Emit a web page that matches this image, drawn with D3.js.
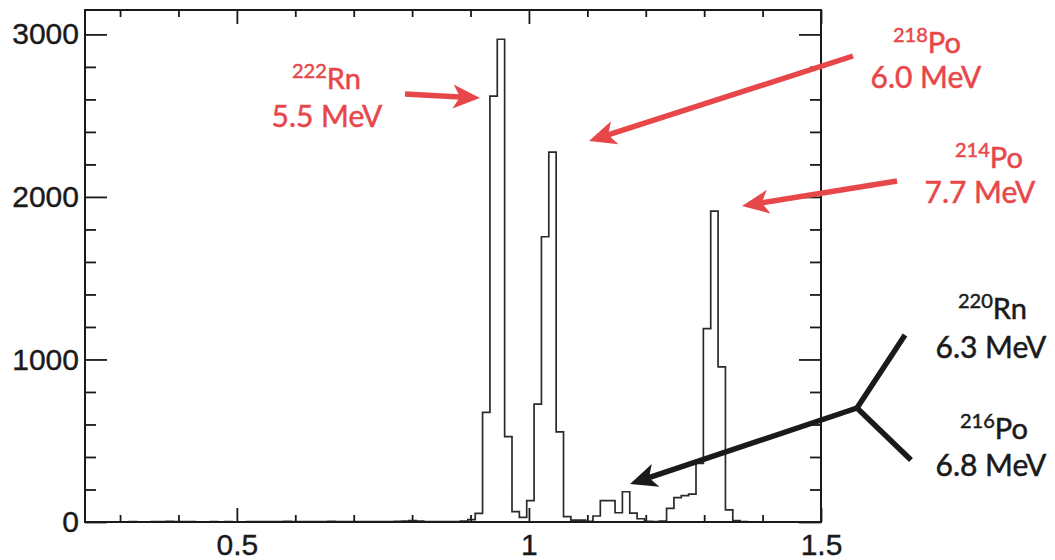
<!DOCTYPE html>
<html>
<head>
<meta charset="utf-8">
<script src="https://cdn.jsdelivr.net/npm/d3@7"></script>
<style>
  html, body { margin: 0; padding: 0; background: #fff; }
  svg { display: block; }
</style>
</head>
<body>
<svg id="chart" width="1055" height="560"></svg>
<script>
// ---- histogram data: regular bins, counts per bin ----
const binStart = 0.2402;
const binWidth = 0.0126;
const counts = [
  0, 0, 1, 0, 0, 1, 2, 1, 1, 2,
  3, 4, 3, 2, 2, 1, 1, 2, 1, 2,
  1, 1, 2, 2, 3, 2, 3, 4, 3, 2,
  2, 3, 2, 4, 3, 2, 2, 3, 2, 3,
  2, 3, 4, 6, 9, 5, 3, 2, 3, 3,
  3, 5, 15, 53, 675, 2620, 2970, 525, 64, 29,
  131, 725, 1755, 2275, 555, 33, 12, 12, 4, 37,
  131, 131, 57, 186, 55, 20, 4, 3, 6, 84,
  150, 162, 172, 360, 1190, 1913, 955, 74, 8, 3,
  1, 0, 1, 0, 0, 0, 0, 0, 0, 0
];

// ---- axis ticks ----
const xDomain = [0.24, 1.5];
const yDomain = [0, 3150];
const xMajorTicks = [0.5, 1, 1.5];
const xMajorLabels = ["0.5", "1", "1.5"];
const xMinorTicks = [0.3, 0.4, 0.6, 0.7, 0.8, 0.9, 1.1, 1.2, 1.3, 1.4];
const yMajorTicks = [0, 1000, 2000, 3000];
const yMajorLabels = ["0", "1000", "2000", "3000"];
const yMinorTicks = [200, 400, 600, 800, 1200, 1400, 1600, 1800, 2200, 2400, 2600, 2800];

// ---- peak annotations ----
const isotopeMass   = ["222", "218", "214", "220", "216"];
const isotopeSymbol = ["Rn", "Po", "Po", "Rn", "Po"];
const alphaEnergy   = ["5.5 MeV", "6.0 MeV", "7.7 MeV", "6.3 MeV", "6.8 MeV"];

// ---- layout ----
const frame = { left: 85, right: 821, top: 10, bottom: 522 };
const red = "#e8474a";
const ink = "#1a1a1a";

const labelLayout = [
  { nx: 292, ny: 89,  ex: 327, ey: 127, color: red },
  { nx: 893, ny: 53,  ex: 926, ey: 88,  color: red },
  { nx: 955, ny: 168, ex: 980, ey: 203, color: red },
  { nx: 958, ny: 319, ex: 991, ey: 358, color: ink },
  { nx: 960, ny: 439, ex: 991, ey: 476, color: ink }
];
const arrowLayout = [
  { x1: 405, y1: 94,  x2: 480, y2: 98,  color: red },
  { x1: 853, y1: 56,  x2: 589, y2: 141, color: red },
  { x1: 897, y1: 181, x2: 742, y2: 206, color: red },
  { x1: 857, y1: 408, x2: 630, y2: 484, color: ink }
];
const forkLayout = [
  { x1: 857, y1: 408, x2: 905, y2: 335 },
  { x1: 857, y1: 408, x2: 911, y2: 460 }
];

const svg = d3.select("#chart");

const x = d3.scaleLinear().domain(xDomain).range([frame.left, frame.right]);
const y = d3.scaleLinear().domain(yDomain).range([frame.bottom, frame.top]);

// clip for histogram
svg.append("defs").append("clipPath").attr("id", "plotClip")
  .append("rect")
  .attr("x", frame.left).attr("y", frame.top)
  .attr("width", frame.right - frame.left)
  .attr("height", frame.bottom - frame.top);

// histogram outline as a step line
const pts = [[binStart, 0]];
counts.forEach((c, k) => pts.push([binStart + k * binWidth, c]));
pts.push([binStart + counts.length * binWidth, counts[counts.length - 1]]);
pts.push([binStart + counts.length * binWidth, 0]);

const stepLine = d3.line()
  .x(d => x(d[0]))
  .y(d => y(d[1]))
  .curve(d3.curveStepAfter);

svg.append("path")
  .datum(pts)
  .attr("clip-path", "url(#plotClip)")
  .attr("d", stepLine)
  .attr("fill", "none")
  .attr("stroke", "#2a2a2a")
  .attr("stroke-width", 1.7)
  .attr("stroke-linejoin", "miter");

// axes with inward ticks on all four sides
function styleAxis(g) {
  g.select(".domain").remove();
  g.selectAll(".tick line").attr("stroke", ink).attr("stroke-width", 1.8);
  g.selectAll("text")
    .attr("font-family", "'Liberation Sans', Arial, Helvetica, sans-serif")
    .attr("font-size", 30)
    .attr("fill", ink)
    .attr("stroke", ink)
    .attr("stroke-width", 0.4);
}

svg.append("g").attr("transform", `translate(${frame.left},0)`)
  .call(d3.axisLeft(y).tickValues(yMajorTicks)
    .tickFormat((d, i) => yMajorLabels[i]).tickSizeInner(-22).tickSizeOuter(0).tickPadding(6))
  .call(styleAxis);
svg.append("g").attr("transform", `translate(${frame.left},0)`)
  .call(d3.axisLeft(y).tickValues(yMinorTicks).tickFormat("").tickSizeInner(-11).tickSizeOuter(0))
  .call(styleAxis);

svg.append("g").attr("transform", `translate(${frame.right},0)`)
  .call(d3.axisRight(y).tickValues(yMajorTicks).tickFormat("").tickSizeInner(-22).tickSizeOuter(0))
  .call(styleAxis);
svg.append("g").attr("transform", `translate(${frame.right},0)`)
  .call(d3.axisRight(y).tickValues(yMinorTicks).tickFormat("").tickSizeInner(-11).tickSizeOuter(0))
  .call(styleAxis);

svg.append("g").attr("transform", `translate(0,${frame.bottom})`)
  .call(d3.axisBottom(x).tickValues(xMajorTicks)
    .tickFormat((d, i) => xMajorLabels[i]).tickSizeInner(-14).tickSizeOuter(0).tickPadding(12))
  .call(styleAxis);
svg.append("g").attr("transform", `translate(0,${frame.bottom})`)
  .call(d3.axisBottom(x).tickValues(xMinorTicks).tickFormat("").tickSizeInner(-7).tickSizeOuter(0))
  .call(styleAxis);

svg.append("g").attr("transform", `translate(0,${frame.top})`)
  .call(d3.axisTop(x).tickValues(xMajorTicks).tickFormat("").tickSizeInner(-14).tickSizeOuter(0))
  .call(styleAxis);
svg.append("g").attr("transform", `translate(0,${frame.top})`)
  .call(d3.axisTop(x).tickValues(xMinorTicks).tickFormat("").tickSizeInner(-7).tickSizeOuter(0))
  .call(styleAxis);

// frame
svg.append("rect")
  .attr("x", frame.left).attr("y", frame.top)
  .attr("width", frame.right - frame.left)
  .attr("height", frame.bottom - frame.top)
  .attr("fill", "none")
  .attr("stroke", ink)
  .attr("stroke-width", 2);

// arrows
function arrow(a) {
  const dx = a.x2 - a.x1, dy = a.y2 - a.y1;
  const len = Math.hypot(dx, dy);
  const ux = dx / len, uy = dy / len;
  const px = -uy, py = ux;
  const headLen = 27, headHalf = 12, notch = 7;
  const bx = a.x2 - ux * headLen, by = a.y2 - uy * headLen;
  const g = svg.append("g");
  g.append("line")
    .attr("x1", a.x1).attr("y1", a.y1)
    .attr("x2", bx + ux * notch).attr("y2", by + uy * notch)
    .attr("stroke", a.color).attr("stroke-width", 5.5);
  g.append("polygon")
    .attr("points", [
      [a.x2, a.y2],
      [bx + px * headHalf, by + py * headHalf],
      [bx + ux * notch, by + uy * notch],
      [bx - px * headHalf, by - py * headHalf]
    ].map(p => p.join(",")).join(" "))
    .attr("fill", a.color);
}
arrowLayout.forEach(arrow);

forkLayout.forEach(f => {
  svg.append("line")
    .attr("x1", f.x1).attr("y1", f.y1)
    .attr("x2", f.x2).attr("y2", f.y2)
    .attr("stroke", ink).attr("stroke-width", 5.5)
    .attr("stroke-linecap", "butt");
});

// isotope labels
const annFont = "Lato, 'Open Sans', sans-serif";
labelLayout.forEach((L, i) => {
  const t = svg.append("text")
    .attr("x", L.nx).attr("y", L.ny)
    .attr("font-family", annFont)
    .attr("fill", L.color)
    .attr("stroke", L.color)
    .attr("stroke-width", 0.5);
  t.append("tspan").attr("font-size", 20).attr("dy", -11).text(isotopeMass[i]);
  t.append("tspan").attr("font-size", 29).attr("dy", 11).text(isotopeSymbol[i]);

  svg.append("text")
    .attr("x", L.ex).attr("y", L.ey)
    .attr("text-anchor", "middle")
    .attr("font-family", annFont)
    .attr("font-size", 30)
    .attr("fill", L.color)
    .attr("stroke", L.color)
    .attr("stroke-width", 0.5)
    .text(alphaEnergy[i]);
});
</script>
</body>
</html>
